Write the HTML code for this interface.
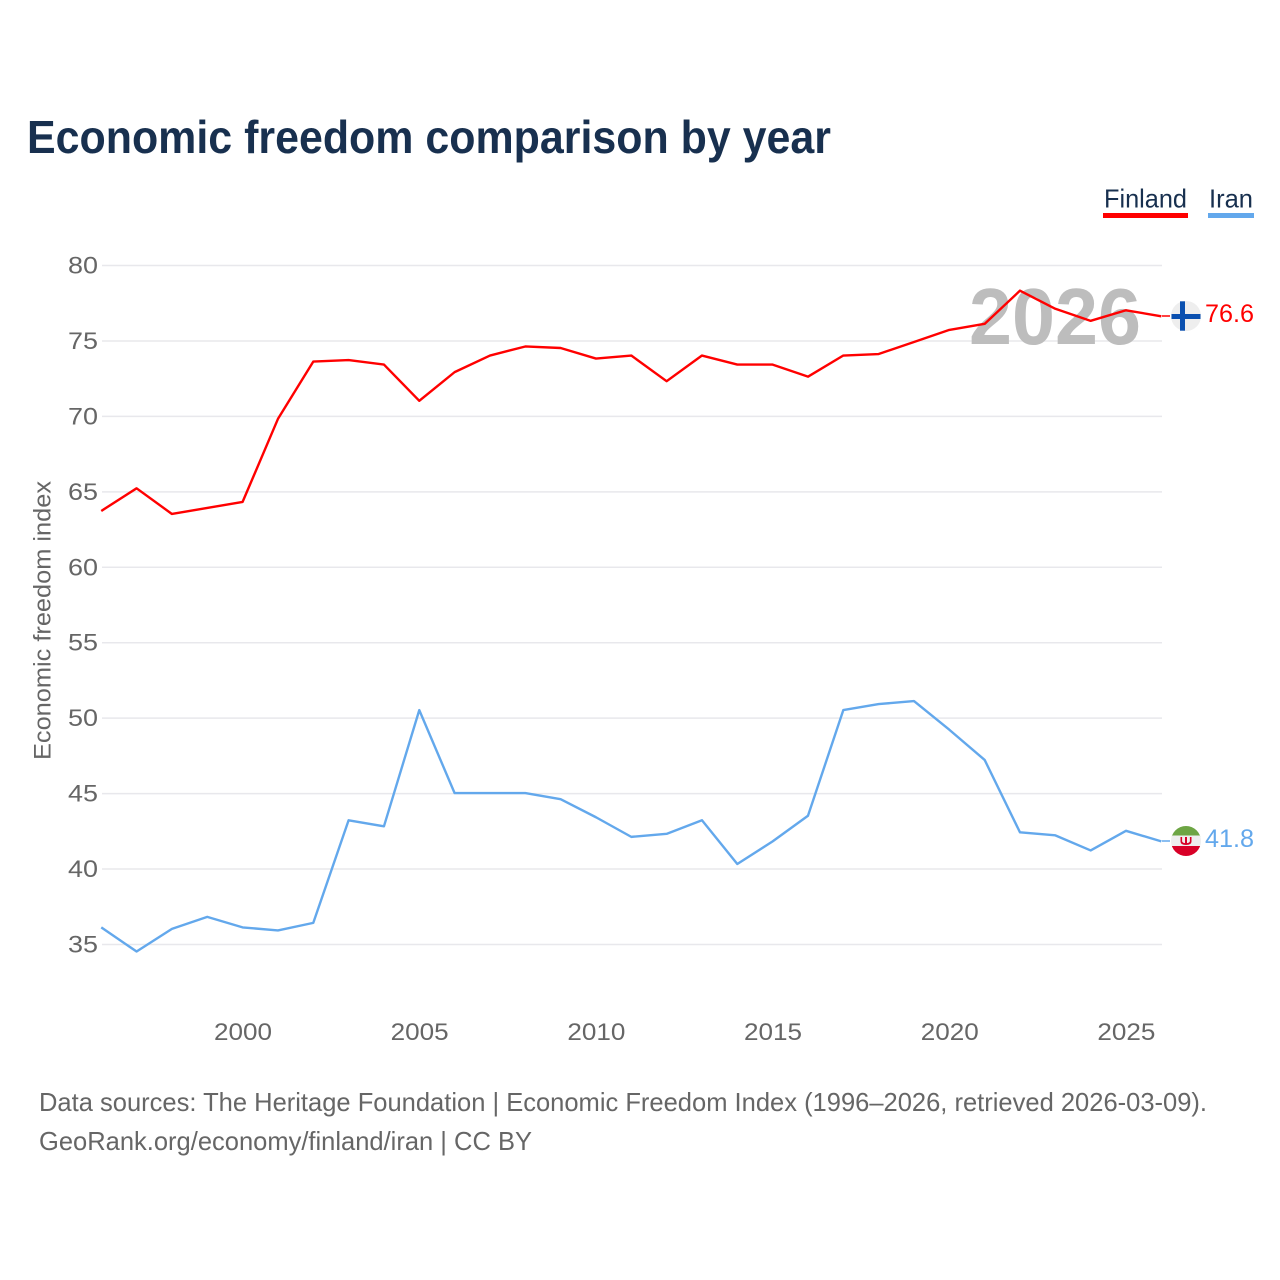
<!DOCTYPE html>
<html lang="en">
<head>
<meta charset="utf-8">
<title>Economic freedom comparison by year</title>
<style>
html,body{margin:0;padding:0;background:#fff;}
svg{display:block;}
text{font-family:"Liberation Sans",sans-serif;}
.tick{font-size:24px;fill:#666;}
</style>
</head>
<body>
<svg id="chart" width="1280" height="1280" viewBox="0 0 1280 1280" xmlns="http://www.w3.org/2000/svg">
  <rect width="1280" height="1280" fill="#fff"/>
  <text x="27" y="153" font-size="46" font-weight="700" fill="#18304f" textLength="804" lengthAdjust="spacingAndGlyphs">Economic freedom comparison by year</text>

  <text x="1104" y="207.500" font-size="26" fill="#18304f" textLength="83" lengthAdjust="spacingAndGlyphs">Finland</text>
  <rect x="1103" y="213" width="85" height="5" fill="#ff0000"/>
  <text x="1209" y="207.500" font-size="26" fill="#18304f" textLength="44" lengthAdjust="spacingAndGlyphs">Iran</text>
  <rect x="1208" y="213" width="46" height="5" fill="#63a8ec"/>

  <g id="grid"></g>
  <text x="1141" y="344" text-anchor="end" font-size="80" font-weight="700" fill="#bdbdbd" textLength="172" lengthAdjust="spacingAndGlyphs">2026</text>
  <g id="yticks"></g>
  <g id="xticks"></g>
  <text transform="translate(50.500,760) rotate(-90)" font-size="24" fill="#666" textLength="279" lengthAdjust="spacingAndGlyphs">Economic freedom index</text>

  <g id="series"></g>

  <line x1="1162" y1="316" x2="1170" y2="316" stroke="#ff0000" stroke-width="1.5"/>
  <line x1="1162" y1="841" x2="1170" y2="841" stroke="#63a8ec" stroke-width="1.5"/>

  <g>
    <circle cx="1186" cy="316" r="15" fill="#eeeeee"/>
    <rect x="1171.500" y="314" width="29" height="5" fill="#0a50b0"/>
    <rect x="1180" y="301.300" width="5" height="29.400" fill="#0a50b0"/>
  </g>
  <g>
    <clipPath id="iran-clip"><circle cx="1186" cy="841" r="15"/></clipPath>
    <g clip-path="url(#iran-clip)">
      <rect x="1171" y="826" width="30" height="10.500" fill="#6da544"/>
      <rect x="1171" y="835.500" width="30" height="11" fill="#eeeeee"/>
      <rect x="1171" y="846" width="30" height="11" fill="#d80027"/>
      <path d="M1180.500 837v4.500q0 3.500 5.500 3.500t5.500-3.500v-4.500h-1.600v4q0 1.800-2.900 2.100v-6.100h-2v6.100q-2.900-.3-2.900-2.100v-4z" fill="#d80027"/>
    </g>
  </g>

  <text x="1205" y="322" font-size="25" fill="#ff0000" textLength="49" lengthAdjust="spacingAndGlyphs">76.6</text>
  <text x="1205" y="847" font-size="25" fill="#63a8ec" textLength="49" lengthAdjust="spacingAndGlyphs">41.8</text>

  <text x="39" y="1111" font-size="26" fill="#666" textLength="1168" lengthAdjust="spacingAndGlyphs">Data sources: The Heritage Foundation | Economic Freedom Index (1996–2026, retrieved 2026-03-09).</text>
  <text x="39" y="1150" font-size="26" fill="#666" textLength="493" lengthAdjust="spacingAndGlyphs">GeoRank.org/economy/finland/iran | CC BY</text>
</svg>
<script>
const years = [1996,1997,1998,1999,2000,2001,2002,2003,2004,2005,2006,2007,2008,2009,2010,2011,2012,2013,2014,2015,2016,2017,2018,2019,2020,2021,2022,2023,2024,2025,2026];
const finlandValues = [63.7,65.2,63.5,63.9,64.3,69.8,73.6,73.7,73.4,71.0,72.9,74.0,74.6,74.5,73.8,74.0,72.3,74.0,73.4,73.4,72.6,74.0,74.1,74.9,75.7,76.1,78.3,77.1,76.3,77.0,76.6];
const iranValues = [36.1,34.5,36.0,36.8,36.1,35.9,36.4,43.2,42.8,50.5,45.0,45.0,45.0,44.6,43.4,42.1,42.3,43.2,40.3,41.8,43.5,50.5,50.9,51.1,49.2,47.2,42.4,42.2,41.2,42.5,41.8];
const yTickValues = [35,40,45,50,55,60,65,70,75,80];
const xTickValues = [2000,2005,2010,2015,2020,2025];

const NS = 'http://www.w3.org/2000/svg';
function xScale(year){ return 242.6 + (year - 2000) * (1126 - 242.6) / 25; }
function yScale(value){ return 944 - (value - 35) * (944 - 265) / 45; }
function make(tag, attrs, parent){
  const el = document.createElementNS(NS, tag);
  for (const k in attrs) el.setAttribute(k, attrs[k]);
  parent.appendChild(el);
  return el;
}
const grid = document.getElementById('grid');
const yticks = document.getElementById('yticks');
const xticks = document.getElementById('xticks');
const series = document.getElementById('series');

yTickValues.forEach(function(v){
  const y = yScale(v) + 0.5;
  const line = make('line', {x1:102, x2:1162, y1:y, y2:y, stroke:'#e8e8ec', 'stroke-width':1.5}, grid);
  
  
  const t = make('text', {x:98, y:y + 8, 'text-anchor':'end', class:'tick', textLength:30, lengthAdjust:'spacingAndGlyphs'}, yticks);
  
  
  t.textContent = String(v);
});
xTickValues.forEach(function(v){
  const t = make('text', {x:xScale(v) + 0.4, y:1040, 'text-anchor':'middle', class:'tick', textLength:58, lengthAdjust:'spacingAndGlyphs'}, xticks);
  
  
  t.textContent = String(v);
});
function pathFor(values){
  return values.map(function(v, i){ return (i ? 'L' : 'M') + xScale(years[i]).toFixed(2) + ' ' + yScale(v).toFixed(2); }).join(' ');
}
const finlandLine = make('path', {d:pathFor(finlandValues), fill:'none', stroke:'#ff0000', 'stroke-width':2.4, 'stroke-linejoin':'round'}, series);


const iranLine = make('path', {d:pathFor(iranValues), fill:'none', stroke:'#63a8ec', 'stroke-width':2.4, 'stroke-linejoin':'round'}, series);


</script>
</body>
</html>
